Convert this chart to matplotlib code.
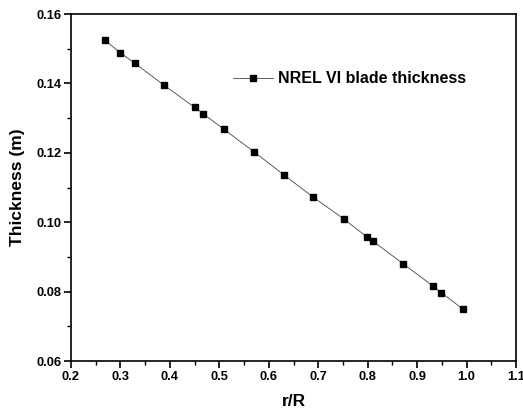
import matplotlib.pyplot as plt
from matplotlib.ticker import MultipleLocator

# data
r_over_R = [0.268, 0.300, 0.329, 0.388, 0.450, 0.467, 0.509, 0.570, 0.631,
            0.690, 0.752, 0.799, 0.811, 0.872, 0.933, 0.949, 0.993]
thickness = [0.1525, 0.1488, 0.1458, 0.1395, 0.1331, 0.1313, 0.1268, 0.1203, 0.1136,
             0.1072, 0.1009, 0.0957, 0.0945, 0.0880, 0.0815, 0.0797, 0.0749]
series_label = "NREL VI blade thickness"

plt.rcParams['font.family'] = ['Liberation Sans', 'DejaVu Sans']
plt.rcParams['font.weight'] = 'bold'

fig = plt.figure(figsize=(5.23, 4.17), dpi=100)
ax = fig.add_axes([71 / 523, 1 - 361 / 417, (516 - 71) / 523, (361 - 14) / 417])

ax.plot(r_over_R, thickness, color='#444444', lw=0.6, marker='s', ms=4.3,
        mfc='black', mec='black', label=series_label)

ax.set_xlim(0.2, 1.1)
ax.set_ylim(0.06, 0.16)
ax.xaxis.set_major_locator(MultipleLocator(0.1))
ax.xaxis.set_minor_locator(MultipleLocator(0.05))
ax.yaxis.set_major_locator(MultipleLocator(0.02))
ax.yaxis.set_minor_locator(MultipleLocator(0.01))
ax.tick_params(which='major', direction='out', length=5, width=1.2, labelsize=9.3, pad=2)
ax.tick_params(which='minor', direction='out', length=3, width=1)
ax.xaxis.set_major_formatter(plt.FuncFormatter(lambda v, p: f"{v:.1f}"))
ax.yaxis.set_major_formatter(plt.FuncFormatter(lambda v, p: f"{v:.2f}"))
for s in ax.spines.values():
    s.set_linewidth(1.2)

ax.set_xlabel("r/R", fontsize=12.5, fontweight='bold', labelpad=8)
ax.set_ylabel("Thickness (m)", fontsize=12.5, fontweight='bold', labelpad=8)

ax.legend(loc='center left', bbox_to_anchor=((233 - 71) / 445, (361 - 79) / 347),
          frameon=False, fontsize=11.5, handlelength=2.5, handletextpad=0.3,
          borderpad=0, borderaxespad=0)

fig.savefig("out.png", dpi=100)
